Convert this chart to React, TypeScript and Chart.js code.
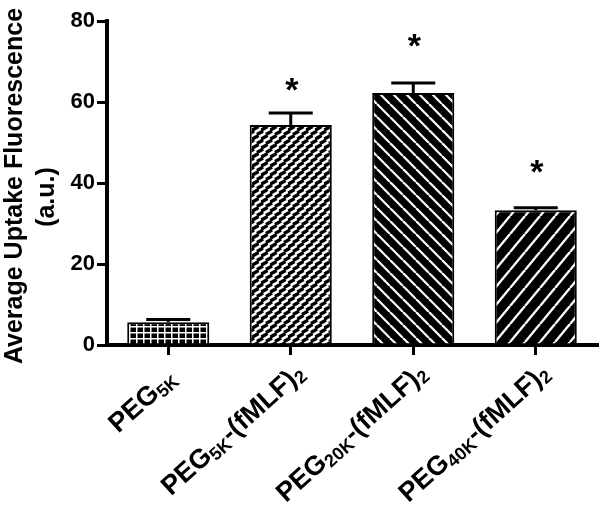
import React, { useEffect, useRef } from 'react';
import { Chart, registerables } from 'chart.js';

Chart.register(...registerables);

// ---- data ----
const categories = ['PEG_{5K} ', 'PEG_{5K}-(fMLF)_{2}', 'PEG_{20K}-(fMLF)_{2}', 'PEG_{40K}-(fMLF)_{2}'];
const meanValues = [5.6, 54.3, 62.2, 33.3];
const errorValues = [0.7, 3.0, 2.5, 0.6];
const starValues: (number | null)[] = [null, 65.2, 76.0, 44.8];
const yTickValues = [0, 20, 40, 60, 80];
const yTitleLines = ['Average Uptake Fluorescence', '(a.u.)'];

const FONT = '"Liberation Sans", Arial, Helvetica, sans-serif';

function parseLabel(s: string): { t: string; sub: boolean }[] {
  const out: { t: string; sub: boolean }[] = [];
  const re = /_\{([^}]*)\}|([^_]+)/g;
  let m: RegExpExecArray | null;
  while ((m = re.exec(s))) {
    if (m[1] !== undefined) out.push({ t: m[1], sub: true });
    else out.push({ t: m[2], sub: false });
  }
  return out;
}

function makePattern(kind: number): CanvasPattern | string {
  const c = document.createElement('canvas');
  let w = 10, h = 10;
  if (kind === 0) { w = 7; h = 6; }
  if (kind === 1) { w = 9; h = 9; }
  if (kind === 2) { w = 13; h = 13; }
  if (kind === 3) { w = 15; h = 18; }
  c.width = w; c.height = h;
  const g = c.getContext('2d');
  if (!g) return '#000';
  if (kind === 0) {
    g.fillStyle = '#000'; g.fillRect(0, 0, w, h);
    g.fillStyle = '#fff';
    g.fillRect(3, 0, 1.5, h);
    g.fillRect(0, 2, w, 1.5);
  } else if (kind === 1) {
    g.fillStyle = '#fff'; g.fillRect(0, 0, w, h);
    g.strokeStyle = '#000'; g.lineWidth = 3.4; g.lineCap = 'butt';
    const dash = (x0: number, y0: number, x1: number, y1: number) => {
      for (const dx of [-w, 0, w]) for (const dy of [-h, 0, h]) {
        g.beginPath(); g.moveTo(x0 + dx, y0 + dy); g.lineTo(x1 + dx, y1 + dy); g.stroke();
      }
    };
    dash(0.5, 4, 6.5, 0.5);
    dash(5, 8.5, 11, 5);
  } else if (kind === 2) {
    g.fillStyle = '#000'; g.fillRect(0, 0, w, h);
    g.strokeStyle = '#fff'; g.lineWidth = 2.2;
    for (const a of [-w, 0, w]) {
      g.beginPath(); g.moveTo(a, 0); g.lineTo(a + w, h); g.stroke();
    }
  } else {
    g.fillStyle = '#000'; g.fillRect(0, 0, w, h);
    g.strokeStyle = '#fff'; g.lineWidth = 2.4;
    for (const a of [-w, 0, w]) {
      g.beginPath(); g.moveTo(a, h); g.lineTo(a + w, 0); g.stroke();
    }
  }
  return g.createPattern(c, 'repeat') || '#000';
}

const overlay = {
  id: 'overlay',
  afterDatasetsDraw(chart: any) {
    const ctx: CanvasRenderingContext2D = chart.ctx;
    const y = chart.scales.y;
    const meta = chart.getDatasetMeta(0);
    ctx.save();
    ctx.strokeStyle = '#000';
    ctx.lineWidth = 3;
    meta.data.forEach((bar: any, i: number) => {
      const top = y.getPixelForValue(meanValues[i]);
      const et = y.getPixelForValue(meanValues[i] + errorValues[i]);
      ctx.beginPath();
      ctx.moveTo(bar.x, top);
      ctx.lineTo(bar.x, et);
      ctx.moveTo(bar.x - 22, et);
      ctx.lineTo(bar.x + 22, et);
      ctx.stroke();
      const s = starValues[i];
      if (s !== null) {
        ctx.fillStyle = '#000';
        ctx.font = `bold 34px ${FONT}`;
        ctx.textAlign = 'center';
        ctx.textBaseline = 'alphabetic';
        ctx.fillText('*', bar.x + 1, y.getPixelForValue(s) + 0.58 * 34);
      }
    });
    ctx.restore();
  },
  afterDraw(chart: any) {
    const ctx: CanvasRenderingContext2D = chart.ctx;
    const x = chart.scales.x;
    ctx.save();
    ctx.fillStyle = '#000';
    // y title
    ctx.textAlign = 'center';
    ctx.textBaseline = 'middle';
    ctx.font = `bold 25px ${FONT}`;
    const pos = [[15, 186], [47, 197]];
    yTitleLines.forEach((line, k) => {
      ctx.save();
      ctx.translate(pos[k][0], pos[k][1]);
      ctx.rotate(-Math.PI / 2);
      ctx.fillText(line, 0, 0);
      ctx.restore();
    });
    // x labels with subscripts
    const mainSize = 27, subSize = 18;
    const ang = (42 * Math.PI) / 180;
    categories.forEach((lab, i) => {
      const segs = parseLabel(lab);
      let total = 0;
      const widths = segs.map((sg) => {
        ctx.font = `bold ${sg.sub ? subSize : mainSize}px ${FONT}`;
        const wd = ctx.measureText(sg.t).width;
        total += wd;
        return wd;
      });
      const px = x.getPixelForValue(i);
      ctx.save();
      ctx.translate(px + 9, 368.5);
      ctx.rotate(-ang);
      ctx.textAlign = 'left';
      ctx.textBaseline = 'alphabetic';
      let cx = -total;
      segs.forEach((sg, k) => {
        ctx.font = `bold ${sg.sub ? subSize : mainSize}px ${FONT}`;
        ctx.fillText(sg.t, cx, sg.sub ? 9 + 4 : 9);
        cx += widths[k];
      });
      ctx.restore();
    });
    ctx.restore();
  },
};

export default function App() {
  const ref = useRef<HTMLCanvasElement | null>(null);
  useEffect(() => {
    if (!ref.current) return;
    const patterns = [0, 1, 2, 3].map(makePattern);
    const chart = new Chart(ref.current, {
      type: 'bar',
      data: {
        labels: categories.map((c) => c.replace(/_\{|\}/g, '').trim()),
        datasets: [
          {
            data: meanValues,
            backgroundColor: patterns as any,
            borderColor: '#000',
            borderWidth: 2,
            barPercentage: 0.67,
            categoryPercentage: 1,
          },
        ],
      },
      options: {
        animation: false,
        responsive: false,
        maintainAspectRatio: false,
        layout: { padding: { top: 21, right: 3, left: 0, bottom: 0 } },
        plugins: { legend: { display: false }, tooltip: { enabled: false } },
        scales: {
          x: {
            grid: { display: true, drawOnChartArea: false, offset: false, tickLength: 10, lineWidth: 3, color: '#000' },
            border: { display: true, width: 4, color: '#000' },
            ticks: { display: false },
            afterFit: (s: any) => { s.height = 160; },
          },
          y: {
            min: 0,
            max: 80,
            afterBuildTicks: (s: any) => { s.ticks = yTickValues.map((v) => ({ value: v })); },
            ticks: { color: '#000', padding: 2, font: { family: FONT, size: 22, weight: 'bold' } },
            grid: { display: true, drawOnChartArea: false, tickLength: 10, lineWidth: 3, color: '#000' },
            border: { display: true, width: 4, color: '#000' },
            afterFit: (s: any) => { s.width = 107; },
          },
        },
      } as any,
      plugins: [overlay],
    });
    return () => chart.destroy();
  }, []);
  return (
    <div style={{ position: 'absolute', left: 0, top: 0, width: 600, height: 505, background: '#fff' }}>
      <canvas ref={ref} width={600} height={505} />
    </div>
  );
}
